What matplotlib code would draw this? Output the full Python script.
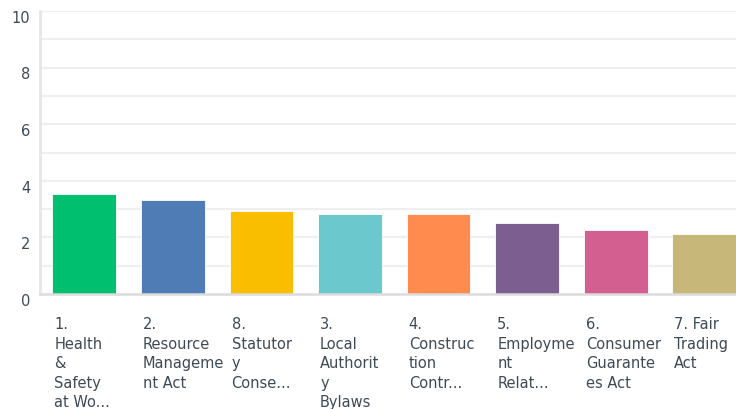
import matplotlib
matplotlib.use("Agg")
import matplotlib.pyplot as plt
import matplotlib.transforms as mtransforms

# Category labels (already wrapped/truncated as displayed)
categories = [
    "1.\nHealth\n&\nSafety\nat Wo...",
    "2.\nResource\nManageme\nnt Act",
    "8.\nStatutor\ny\nConse...",
    "3.\nLocal\nAuthorit\ny\nBylaws",
    "4.\nConstruc\ntion\nContr...",
    "5.\nEmployme\nnt\nRelat...",
    "6.\nConsumer\nGuarante\nes Act",
    "7. Fair\nTrading\nAct",
]
values = [3.53, 3.33, 2.92, 2.83, 2.84, 2.50, 2.27, 2.13]
colors = ["#00BF6F", "#507CB6", "#F9BE00", "#6BC8CD",
          "#FF8B4F", "#7D5E90", "#D25F90", "#C7B879"]
y_ticks = [0, 2, 4, 6, 8, 10]

W, H = 736, 410
fig = plt.figure(figsize=(W / 100, H / 100), dpi=100)
fig.patch.set_facecolor("white")

# Plot area runs slightly past the right edge of the canvas
left, right = 40, 748.5
top, bottom = 12, 295
ax = fig.add_axes([left / W, (H - bottom) / H, (right - left) / W, (bottom - top) / H])

x = list(range(len(values)))
ax.bar(x, values, width=0.72, color=colors, edgecolor="white", linewidth=0.6, zorder=3)

ax.set_xlim(-0.5, len(values) - 0.5)
ax.set_ylim(0, 10)

# Light horizontal gridlines at every unit
for v in range(1, 11):
    ax.axhline(v, color="#efefef", linewidth=1.6, zorder=1)

for s in ["top", "right"]:
    ax.spines[s].set_visible(False)
ax.spines["left"].set_color("#e6e6e6")
ax.spines["left"].set_linewidth(2)
ax.spines["bottom"].set_color("#dcdcdc")
ax.spines["bottom"].set_linewidth(1.8)
ax.spines["bottom"].set_zorder(4)

text_color = "#3e4a54"
font = "DejaVu Sans"

ax.set_yticks(y_ticks)
ax.set_yticklabels([str(t) for t in y_ticks], fontsize=10.5, color=text_color, family=font)
ax.tick_params(axis="y", length=0, pad=7)
for lbl in ax.get_yticklabels():
    lbl.set_transform(lbl.get_transform() + mtransforms.ScaledTranslation(0, -3.5 / 72, fig.dpi_scale_trans))

ax.set_xticks(x)
ax.set_xticklabels(categories, fontsize=10.5, color=text_color, family=font,
                   ha="left", va="top", linespacing=1.37)
ax.tick_params(axis="x", length=0, pad=16)
offset = mtransforms.ScaledTranslation(-21.5 / 72, 0, fig.dpi_scale_trans)
for lbl in ax.get_xticklabels():
    lbl.set_transform(lbl.get_transform() + offset)

fig.savefig("out.png", dpi=100, facecolor="white")
